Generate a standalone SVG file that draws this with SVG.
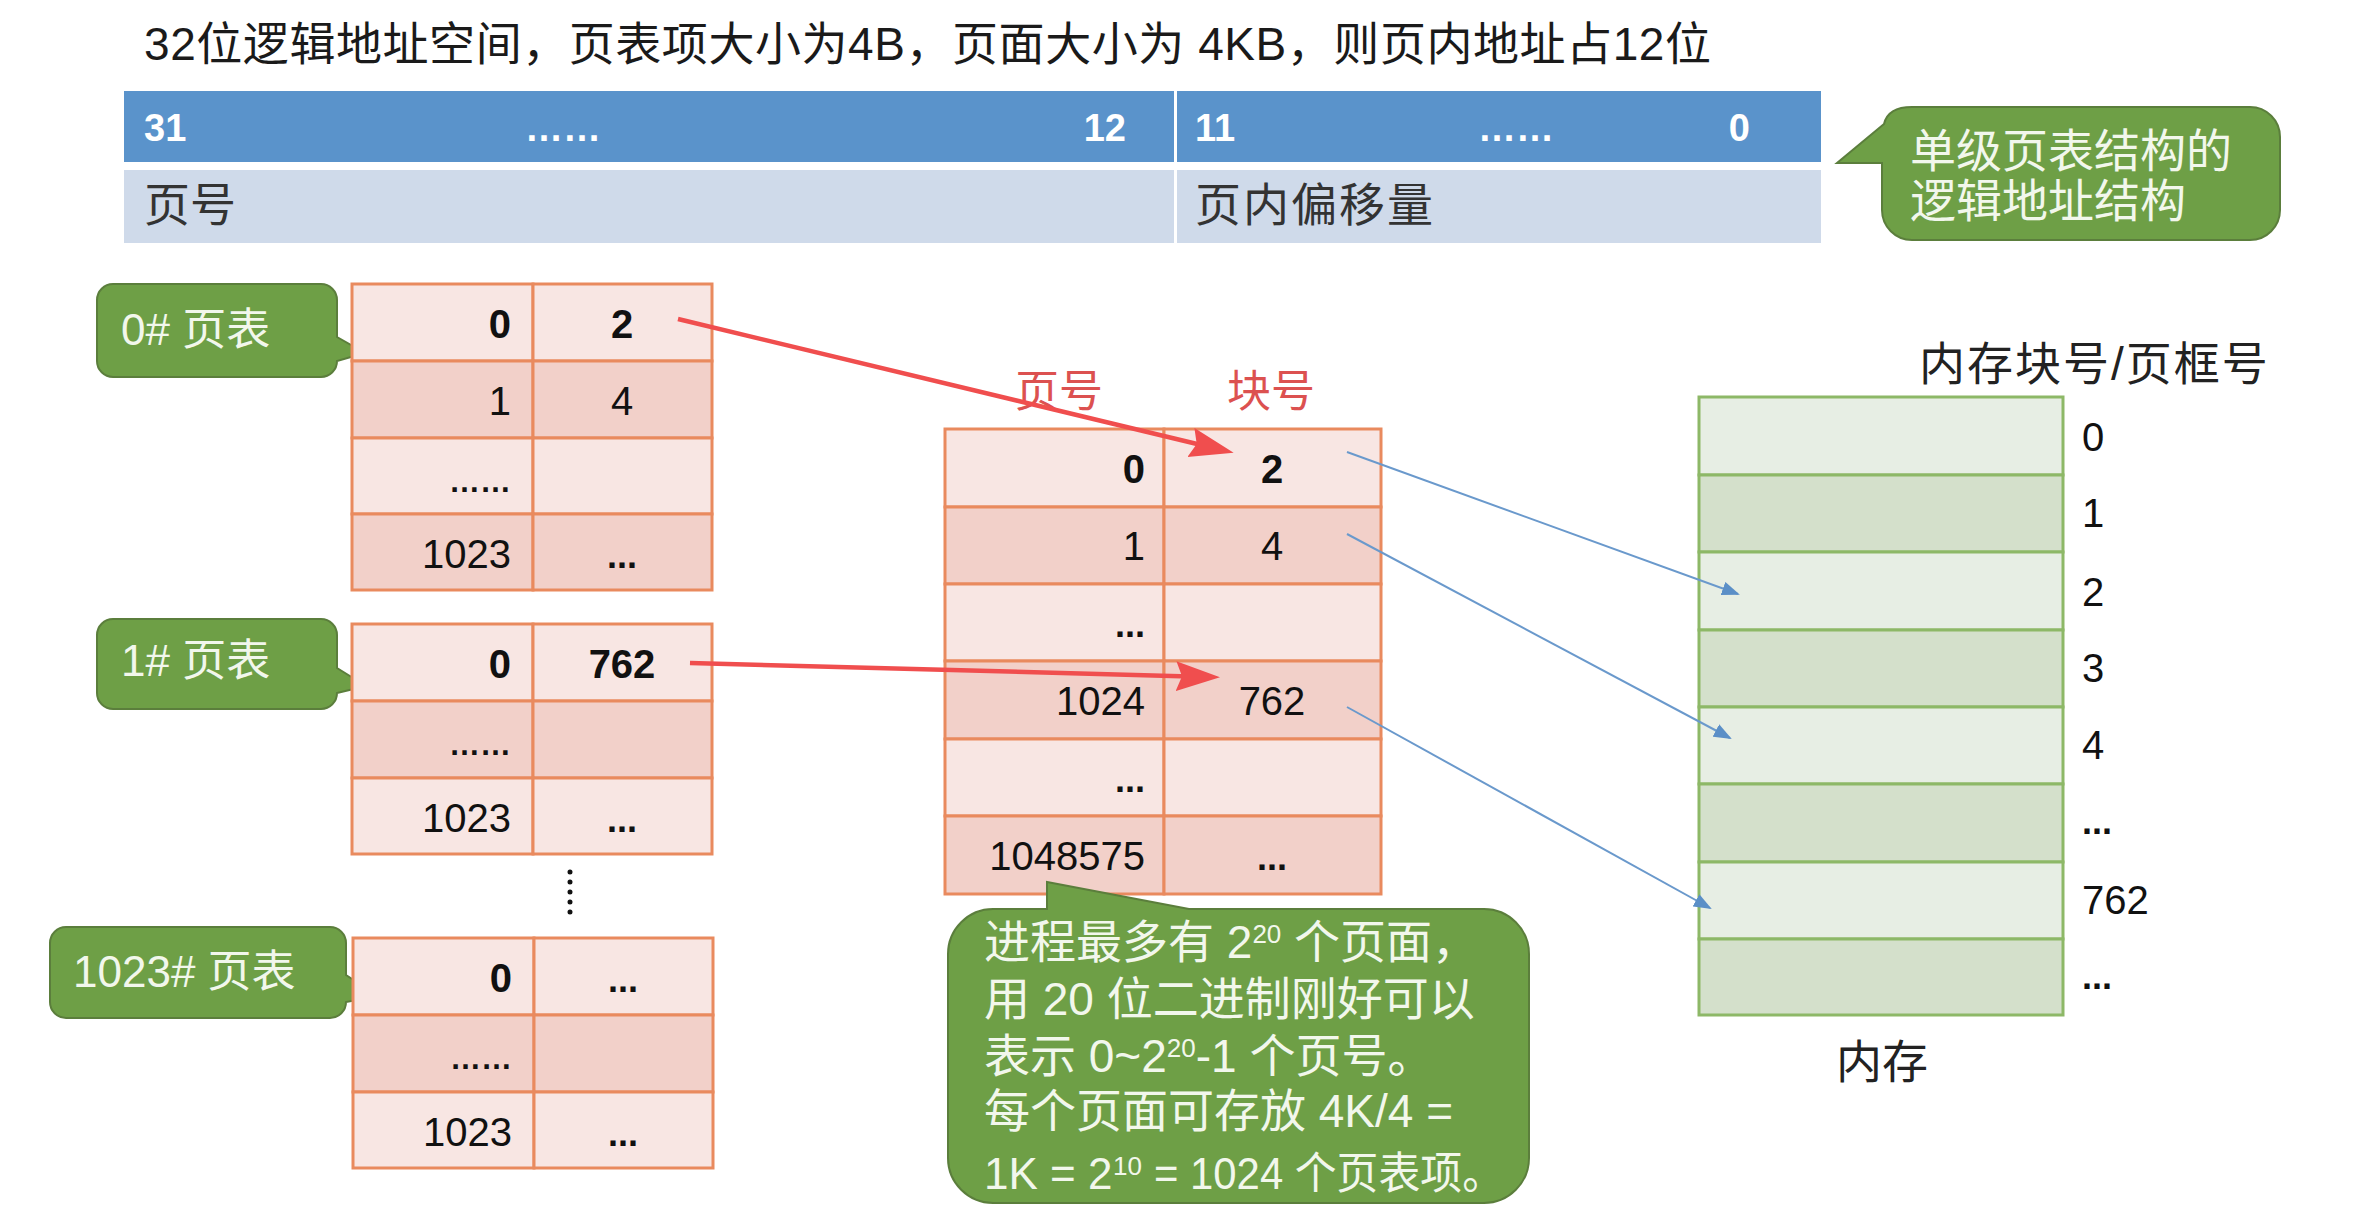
<svg xmlns="http://www.w3.org/2000/svg" width="2379" height="1208" viewBox="0 0 2379 1208">
<defs>
<style>
text{font-family:"Liberation Sans","Noto Sans CJK SC",sans-serif;}
.title{font-size:46px;fill:#1a1a1a;}
.bar{fill:#5A93CB;}
.barl{fill:#CFDAEA;}
.bt{font-size:38px;font-weight:bold;fill:#ffffff;}
.lt{font-size:46px;fill:#333333;}
.cl{fill:#F8E6E3;stroke:#E98A5E;stroke-width:3;}
.cd{fill:#F2D0C9;stroke:#E98A5E;stroke-width:3;}
.tn{font-size:40px;fill:#111111;}
.tb{font-size:40px;font-weight:bold;fill:#111111;}
.dots{font-size:31px;font-weight:bold;fill:#111111;}
.dot3{font-size:36px;font-weight:bold;fill:#111111;}
.ml{fill:#E7EEE4;stroke:#8DB867;stroke-width:3;}
.md{fill:#D4E0CB;stroke:#8DB867;stroke-width:3;}
.call{fill:#6E9F46;stroke:#5B7E3C;stroke-width:2;}
.ct{font-size:44px;fill:#F2F7EC;}
.ct2{font-size:46px;fill:#F2F7EC;}
.ct3{font-size:44px;fill:#F2F7EC;}
.sup{font-size:26px;}
.supt{font-size:26px;fill:#F2F7EC;}
.red{font-size:44px;fill:#DC5150;}
.blk{font-size:46px;fill:#222222;}
.ml2{font-size:40px;fill:#111111;}
.rarr{stroke:#F04E4E;stroke-width:4.5;fill:none;}
.barr{stroke:#6A99CC;stroke-width:2;fill:none;}
</style>
<marker id="rh" markerUnits="userSpaceOnUse" markerWidth="46" markerHeight="32" refX="32" refY="15" orient="auto">
<path d="M0,0 L44,15 L0,30 L6,15 Z" fill="#F04E4E"/>
</marker>
<marker id="bh" markerUnits="userSpaceOnUse" markerWidth="20" markerHeight="14" refX="16" refY="7" orient="auto">
<path d="M0,0 L18,7 L0,14 Z" fill="#5B8FC7"/>
</marker>
</defs>
<rect width="2379" height="1208" fill="#ffffff"/>

<g id="title">
<text class="title" x="144" y="60" textLength="1567" lengthAdjust="spacing">32位逻辑地址空间，页表项大小为4B，页面大小为 4KB，则页内地址占12位</text>
</g>

<g id="address-structure">
<rect class="bar" x="124" y="91" width="1050" height="71"/>
<rect class="bar" x="1177" y="91" width="644" height="71"/>
<rect class="barl" x="124" y="170" width="1050" height="73"/>
<rect class="barl" x="1177" y="170" width="644" height="73"/>
<text class="bt" x="144" y="141">31</text>
<text class="bt" x="563" y="141" text-anchor="middle" font-size="30">……</text>
<text class="bt" x="1126" y="141" text-anchor="end">12</text>
<text class="bt" x="1195" y="141">11</text>
<text class="bt" x="1516" y="141" text-anchor="middle" font-size="30">……</text>
<text class="bt" x="1750" y="141" text-anchor="end">0</text>
<text class="lt" x="144" y="221">页号</text>
<text class="lt" x="1195" y="221" letter-spacing="2">页内偏移量</text>
</g>

<g id="callout-structure">
<path class="call" d="M1912,107 H2250 A30,30 0 0 1 2280,137 V210 A30,30 0 0 1 2250,240 H1912 A30,30 0 0 1 1882,210 V163 L1837,163 L1884,124 Q1888,107 1912,107 Z"/>
<text class="ct2" x="1910" y="167">单级页表结构的</text>
<text class="ct2" x="1910" y="217">逻辑地址结构</text>
</g>

<g id="callout-pt0">
<path class="call" d="M113,284 H321 A16,16 0 0 1 337,300 V337 L365,353 L337,361 A16,16 0 0 1 321,377 H113 A16,16 0 0 1 97,361 V300 A16,16 0 0 1 113,284 Z"/>
<text class="ct" x="121" y="345">0# 页表</text>
</g>

<g id="pagetable-0">
<rect class="cl" x="352" y="284" width="181" height="77"/>
<rect class="cl" x="533" y="284" width="179" height="77"/>
<rect class="cd" x="352" y="361" width="181" height="77"/>
<rect class="cd" x="533" y="361" width="179" height="77"/>
<rect class="cl" x="352" y="438" width="181" height="76"/>
<rect class="cl" x="533" y="438" width="179" height="76"/>
<rect class="cd" x="352" y="514" width="181" height="76"/>
<rect class="cd" x="533" y="514" width="179" height="76"/>
<text class="tb" x="511" y="338" text-anchor="end">0</text>
<text class="tb" x="622" y="338" text-anchor="middle">2</text>
<text class="tn" x="511" y="415" text-anchor="end">1</text>
<text class="tn" x="622" y="415" text-anchor="middle">4</text>
<text class="dots" x="511" y="492" text-anchor="end">……</text>
<text class="tn" x="511" y="568" text-anchor="end">1023</text>
<text class="dot3" x="622" y="568" text-anchor="middle">...</text>
</g>

<g id="callout-pt1">
<path class="call" d="M113,619 H321 A16,16 0 0 1 337,635 V668 L366,686 L337,693 A16,16 0 0 1 321,709 H113 A16,16 0 0 1 97,693 V635 A16,16 0 0 1 113,619 Z"/>
<text class="ct" x="121" y="676">1# 页表</text>
</g>

<g id="pagetable-1">
<rect class="cl" x="352" y="624" width="181" height="77"/>
<rect class="cl" x="533" y="624" width="179" height="77"/>
<rect class="cd" x="352" y="701" width="181" height="77"/>
<rect class="cd" x="533" y="701" width="179" height="77"/>
<rect class="cl" x="352" y="778" width="181" height="76"/>
<rect class="cl" x="533" y="778" width="179" height="76"/>
<text class="tb" x="511" y="678" text-anchor="end">0</text>
<text class="tb" x="622" y="678" text-anchor="middle">762</text>
<text class="dots" x="511" y="755" text-anchor="end">……</text>
<text class="tn" x="511" y="832" text-anchor="end">1023</text>
<text class="dot3" x="622" y="832" text-anchor="middle">...</text>
</g>

<g id="vdots">
<line x1="570" y1="872" x2="570" y2="922" stroke="#111111" stroke-width="5" stroke-linecap="round" stroke-dasharray="0 10"/>
</g>

<g id="callout-pt1023">
<path class="call" d="M66,927 H330 A16,16 0 0 1 346,943 V975 L378,996 L346,1002 A16,16 0 0 1 330,1018 H66 A16,16 0 0 1 50,1002 V943 A16,16 0 0 1 66,927 Z"/>
<text class="ct" x="73" y="987">1023# 页表</text>
</g>

<g id="pagetable-1023">
<rect class="cl" x="353" y="938" width="181" height="77"/>
<rect class="cl" x="534" y="938" width="179" height="77"/>
<rect class="cd" x="353" y="1015" width="181" height="77"/>
<rect class="cd" x="534" y="1015" width="179" height="77"/>
<rect class="cl" x="353" y="1092" width="181" height="76"/>
<rect class="cl" x="534" y="1092" width="179" height="76"/>
<text class="tb" x="512" y="992" text-anchor="end">0</text>
<text class="dot3" x="623" y="992" text-anchor="middle">...</text>
<text class="dots" x="512" y="1069" text-anchor="end">……</text>
<text class="tn" x="512" y="1146" text-anchor="end">1023</text>
<text class="dot3" x="623" y="1146" text-anchor="middle">...</text>
</g>

<g id="single-pagetable">
<text class="red" x="1059" y="407" text-anchor="middle">页号</text>
<text class="red" x="1271" y="407" text-anchor="middle">块号</text>
<rect class="cl" x="945" y="429" width="219" height="78"/>
<rect class="cl" x="1164" y="429" width="217" height="78"/>
<rect class="cd" x="945" y="507" width="219" height="77"/>
<rect class="cd" x="1164" y="507" width="217" height="77"/>
<rect class="cl" x="945" y="584" width="219" height="77"/>
<rect class="cl" x="1164" y="584" width="217" height="77"/>
<rect class="cd" x="945" y="661" width="219" height="78"/>
<rect class="cd" x="1164" y="661" width="217" height="78"/>
<rect class="cl" x="945" y="739" width="219" height="77"/>
<rect class="cl" x="1164" y="739" width="217" height="77"/>
<rect class="cd" x="945" y="816" width="219" height="78"/>
<rect class="cd" x="1164" y="816" width="217" height="78"/>
<text class="tb" x="1145" y="483" text-anchor="end">0</text>
<text class="tb" x="1272" y="483" text-anchor="middle">2</text>
<text class="tn" x="1145" y="560" text-anchor="end">1</text>
<text class="tn" x="1272" y="560" text-anchor="middle">4</text>
<text class="dot3" x="1145" y="637" text-anchor="end">...</text>
<text class="tn" x="1145" y="715" text-anchor="end">1024</text>
<text class="tn" x="1272" y="715" text-anchor="middle">762</text>
<text class="dot3" x="1145" y="792" text-anchor="end">...</text>
<text class="tn" x="1145" y="870" text-anchor="end">1048575</text>
<text class="dot3" x="1272" y="870" text-anchor="middle">...</text>
</g>

<g id="callout-note">
<path class="call" d="M993,909 H1047 L1047,882 L1189,909 H1484 A45,45 0 0 1 1529,954 V1158 A45,45 0 0 1 1484,1203 H993 A45,45 0 0 1 948,1158 V954 A45,45 0 0 1 993,909 Z"/>
<text class="ct2" x="984" y="958">进程最多有 2<tspan class="sup" dy="-15">20</tspan><tspan dy="15"> 个页面，</tspan></text>
<text class="ct2" x="984" y="1015">用 20 位二进制刚好可以</text>
<text class="ct2" x="984" y="1072">表示 0~2<tspan class="sup" dy="-15">20</tspan><tspan dy="15">-1 个页号。</tspan></text>
<text class="ct2" x="984" y="1127">每个页面可存放 4K/4 =</text>
<text class="ct3" x="984" y="1189">1K = 2</text>
<text class="supt" x="1113" y="1175">10</text>
<text class="ct3" x="1154" y="1189" textLength="350" lengthAdjust="spacingAndGlyphs">= 1024 个页表项。</text>
</g>

<g id="memory">
<text class="blk" x="1919" y="380" letter-spacing="2">内存块号/页框号</text>
<rect class="ml" x="1699" y="397" width="364" height="78"/>
<rect class="md" x="1699" y="475" width="364" height="77"/>
<rect class="ml" x="1699" y="552" width="364" height="78"/>
<rect class="md" x="1699" y="630" width="364" height="77"/>
<rect class="ml" x="1699" y="707" width="364" height="77"/>
<rect class="md" x="1699" y="784" width="364" height="78"/>
<rect class="ml" x="1699" y="862" width="364" height="77"/>
<rect class="md" x="1699" y="939" width="364" height="76"/>
<text class="ml2" x="2082" y="451">0</text>
<text class="ml2" x="2082" y="527">1</text>
<text class="ml2" x="2082" y="606">2</text>
<text class="ml2" x="2082" y="682">3</text>
<text class="ml2" x="2082" y="759">4</text>
<text class="dot3" x="2082" y="834">...</text>
<text class="ml2" x="2082" y="914">762</text>
<text class="dot3" x="2082" y="989">...</text>
<text class="blk" x="1836" y="1078">内存</text>
</g>

<g id="connectors">
<line class="rarr" x1="678" y1="319" x2="1222" y2="450" marker-end="url(#rh)"/>
<line class="rarr" x1="690" y1="663" x2="1208" y2="677" marker-end="url(#rh)"/>
<line class="barr" x1="1347" y1="452" x2="1738" y2="594" marker-end="url(#bh)"/>
<line class="barr" x1="1347" y1="534" x2="1730" y2="738" marker-end="url(#bh)"/>
<line class="barr" x1="1347" y1="707" x2="1710" y2="908" marker-end="url(#bh)"/>
</g>
</svg>
